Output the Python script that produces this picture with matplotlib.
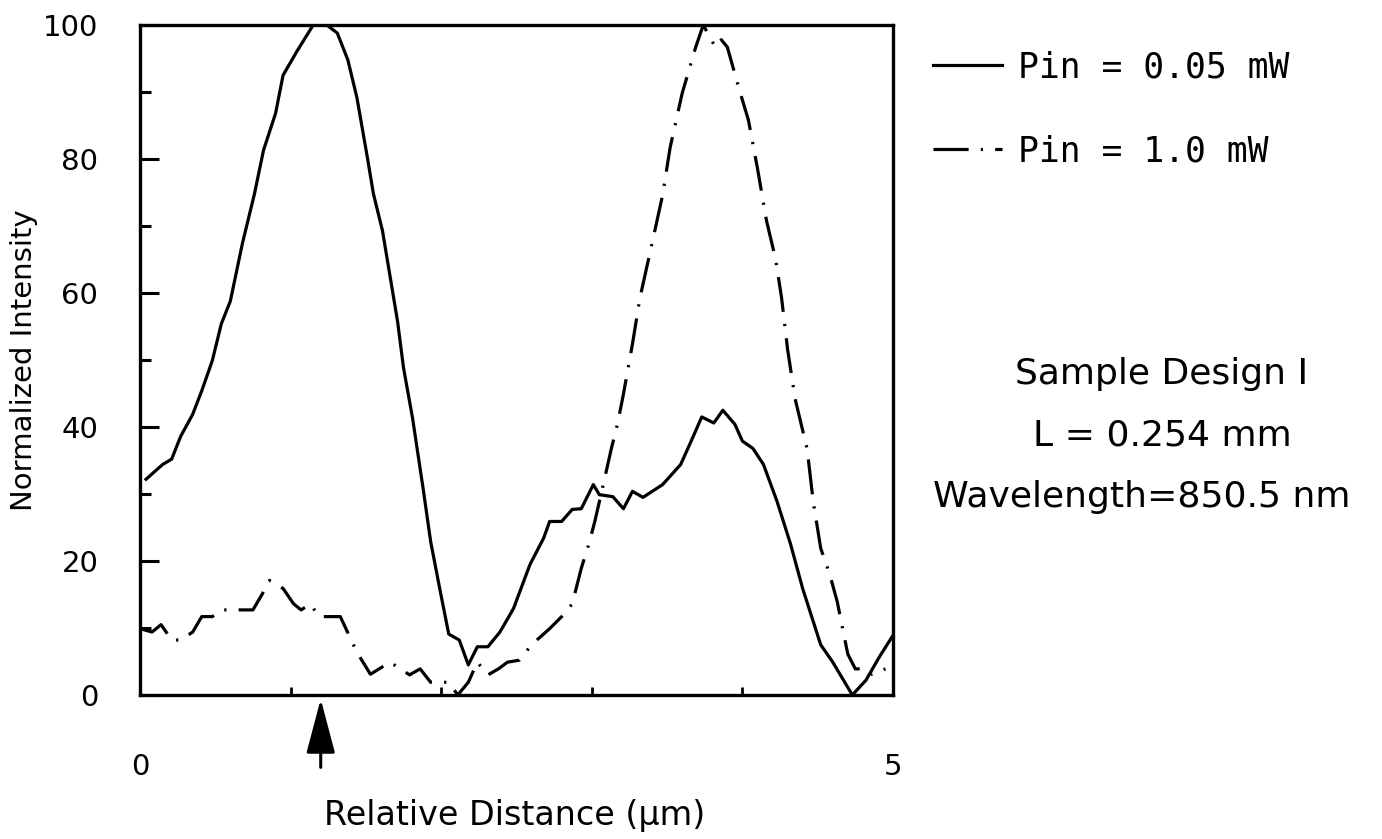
import matplotlib
matplotlib.use("Agg")
import matplotlib.pyplot as plt

# ---- data ----
x_low = [0.04, 0.15, 0.21, 0.27, 0.35, 0.41, 0.48, 0.54, 0.60, 0.68, 0.76, 0.82, 0.90, 0.95,
         1.04, 1.15, 1.24, 1.31, 1.38, 1.44, 1.51, 1.55, 1.61, 1.71, 1.75, 1.81, 1.88, 1.93,
         1.99, 2.05, 2.12, 2.18, 2.24, 2.31, 2.39, 2.48, 2.59, 2.68, 2.72, 2.80, 2.87, 2.93,
         3.01, 3.05, 3.14, 3.21, 3.27, 3.34, 3.47, 3.59, 3.66, 3.73, 3.81, 3.87, 3.95, 4.00,
         4.07, 4.14, 4.23, 4.32, 4.40, 4.52, 4.60, 4.73, 4.82, 4.91, 5.00]
y_low = [32.2, 34.4, 35.2, 38.6, 41.9, 45.4, 49.9, 55.4, 58.8, 67.4, 74.8, 81.3, 86.8, 92.5,
         96.0, 100.0, 100.0, 98.8, 94.8, 89.2, 80.2, 74.8, 69.3, 55.8, 48.8, 41.3, 30.8, 22.9,
         15.9, 9.1, 8.2, 4.5, 7.2, 7.2, 9.4, 12.9, 19.5, 23.4, 25.9, 25.9, 27.7, 27.8,
         31.4, 29.9, 29.6, 27.8, 30.4, 29.5, 31.4, 34.4, 37.9, 41.5, 40.6, 42.5, 40.4, 37.9,
         36.8, 34.4, 28.9, 22.5, 15.9, 7.5, 4.9, 0.0, 2.2, 5.7, 8.9]

x_high = [0.00, 0.08, 0.14, 0.21, 0.27, 0.35, 0.41, 0.48, 0.54, 0.75, 0.81, 0.86, 0.95, 1.02,
          1.07, 1.13, 1.19, 1.33, 1.44, 1.53, 1.66, 1.73, 1.79, 1.86, 1.93, 2.05, 2.11, 2.18,
          2.24, 2.31, 2.38, 2.44, 2.52, 2.60, 2.72, 2.80, 2.87, 2.93, 2.98, 3.02, 3.07, 3.13,
          3.17, 3.21, 3.27, 3.32, 3.40, 3.47, 3.52, 3.60, 3.69, 3.74, 3.82, 3.86, 3.90, 3.98,
          4.04, 4.10, 4.16, 4.22, 4.26, 4.30, 4.35, 4.43, 4.47, 4.52, 4.58, 4.63, 4.67, 4.70,
          4.75, 4.81, 4.86, 4.95]
y_high = [9.9, 9.4, 10.5, 8.2, 8.2, 9.4, 11.7, 11.7, 12.7, 12.7, 15.0, 17.1, 15.9, 13.6,
          12.7, 13.6, 11.7, 11.7, 6.4, 3.1, 4.9, 3.9, 3.0, 3.9, 1.9, 1.9, 0.0, 1.9,
          4.9, 3.0, 3.9, 4.9, 5.2, 7.5, 9.9, 11.7, 13.6, 18.9, 22.5, 25.9, 30.8, 36.8,
          40.4, 44.9, 52.4, 59.3, 67.4, 74.6, 81.7, 89.8, 96.7, 100.0, 96.7, 97.8, 96.7, 90.3,
          85.8, 78.6, 70.8, 65.1, 59.3, 51.6, 44.2, 36.7, 28.9, 21.9, 18.0, 13.9, 9.4, 6.1,
          3.9, 3.9, 3.1, 3.9]

labels = ["Pin = 0.05 mW", "Pin = 1.0 mW"]
y_ticks = [0, 20, 40, 60, 80, 100]
y_minor = [10, 30, 50, 70, 90]
x_ticks = [0, 1, 2, 3, 4, 5]
x_ticklabels = ["0", "", "", "", "", "5"]
arrow_x = 1.2
notes = ["Sample Design I", "L = 0.254 mm", "Wavelength=850.5 nm"]

W, H = 1382, 839
fig = plt.figure(figsize=(W / 100, H / 100), dpi=100)
ax = fig.add_axes([140 / W, 1 - 695 / H, (893 - 140) / W, (695 - 25) / H])

lw = 2.3
ax.plot(x_low, y_low, color="black", lw=lw, solid_joinstyle="round", label=labels[0])
ax.plot(x_high, y_high, color="black", lw=lw, dashes=(11.0, 3.8, 0.7, 3.8),
        label=labels[1])

ax.set_xlim(0, 5)
ax.set_ylim(0, 100)
for s in ax.spines.values():
    s.set_linewidth(2.4)

ax.set_yticks(y_ticks)
ax.set_yticks(y_minor, minor=True)
ax.set_xticks(x_ticks)
ax.set_xticklabels(x_ticklabels)
ax.tick_params(axis="y", which="major", direction="in", length=14, width=2.2,
               pad=30, labelsize=21)
ax.tick_params(axis="y", which="minor", direction="in", length=8, width=2.2)
ax.tick_params(axis="x", which="major", direction="in", length=6, width=2.0,
               pad=42, labelsize=21)

# arrow below the axis
ax.annotate("", xy=(arrow_x, -0.6), xytext=(arrow_x, -10.8),
            arrowprops=dict(arrowstyle="-|>,head_length=3.4,head_width=0.9",
                            color="black", lw=2.2, shrinkA=0, shrinkB=0),
            annotation_clip=False)

fig.text(515 / W, 1 - 815 / H, "Relative Distance (\u03bcm)", ha="center", va="center",
         fontsize=24)
fig.text(24 / W, 1 - 360 / H, "Normalized Intensity", ha="center", va="center",
         rotation=90, fontsize=21)

leg = ax.legend(loc="upper left", bbox_to_anchor=(933 / W, 1 - 50 / H),
                bbox_transform=fig.transFigure, frameon=False,
                prop={"family": "DejaVu Sans Mono", "size": 25},
                handlelength=2.0, handletextpad=0.45, labelspacing=1.45,
                borderaxespad=0, borderpad=0)

fig.text(1162 / W, 1 - 374 / H, notes[0], ha="center", va="center", fontsize=26)
fig.text(1162 / W, 1 - 435 / H, notes[1], ha="center", va="center", fontsize=26)
fig.text(1142 / W, 1 - 497 / H, notes[2], ha="center", va="center", fontsize=26)

fig.savefig("out.png", dpi=100)
